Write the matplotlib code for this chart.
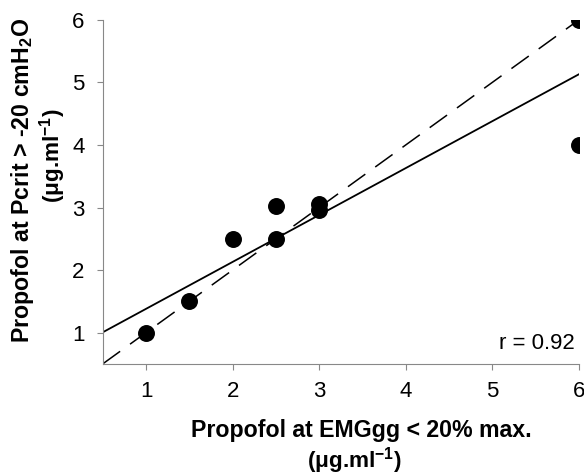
import matplotlib
matplotlib.use("Agg")
import matplotlib.pyplot as plt
import numpy as np

plt.rcParams['font.family'] = ['Liberation Sans', 'DejaVu Sans']
plt.rcParams['mathtext.fontset'] = 'custom'
plt.rcParams['mathtext.rm'] = 'Liberation Sans'
plt.rcParams['mathtext.bf'] = 'Liberation Sans:bold'
plt.rcParams['mathtext.default'] = 'bf'

# data
x_vals = [1.0, 1.5, 2.0, 2.5, 2.5, 3.0, 3.0, 6.0, 6.0]
y_vals = [1.0, 1.5, 2.5, 2.5, 3.02, 2.96, 3.05, 6.0, 4.0]
fit_slope = 0.75
fit_intercept = 0.63
r_text = "r = 0.92"
xticks = [1, 2, 3, 4, 5, 6]
yticks = [1, 2, 3, 4, 5, 6]

fig = plt.figure(figsize=(5.84, 4.75), dpi=100)
ax = fig.add_axes([0.176, 0.234, 0.815, 0.724])

xl = np.array([0.5, 6.0])
ax.plot(xl, fit_intercept + fit_slope * xl, color='black', lw=1.3, zorder=2)
ax.plot(xl, xl, color='black', lw=1.1, dashes=(14, 8), zorder=2)
ax.scatter(x_vals, y_vals, s=125, color='black', zorder=3, clip_on=True)

ax.set_xlim(0.5, 6.0)
ax.set_ylim(0.5, 6.0)
ax.set_xticks(xticks)
ax.set_yticks(yticks)
ax.tick_params(labelsize=16, length=4, color='#888888')
ax.tick_params(axis='x', pad=8)
ax.tick_params(axis='y', pad=9)
for s in ['top', 'right']:
    ax.spines[s].set_visible(False)
for s in ['left', 'bottom']:
    ax.spines[s].set_color('#888888')

ax.text(5.95, 0.82, r_text, ha='right', va='center', fontsize=16)

fig.text(0.618, 0.094, "Propofol at EMGgg < 20% max.", ha='center', va='center',
         fontsize=16.7, fontweight='bold')
fig.text(0.606, 0.031, r"(μg.ml$^{-1}$)", ha='center', va='center',
         fontsize=16.2, fontweight='bold')
fig.text(0.038, 0.621, r"Propofol at Pcrit > -20 cmH$_{2}$O", ha='center', va='center',
         fontsize=16.7, fontweight='bold', rotation=90)
fig.text(0.090, 0.672, r"(μg.ml$^{-1}$)", ha='center', va='center',
         fontsize=16.2, fontweight='bold', rotation=90)

fig.savefig("out.png", dpi=100)
